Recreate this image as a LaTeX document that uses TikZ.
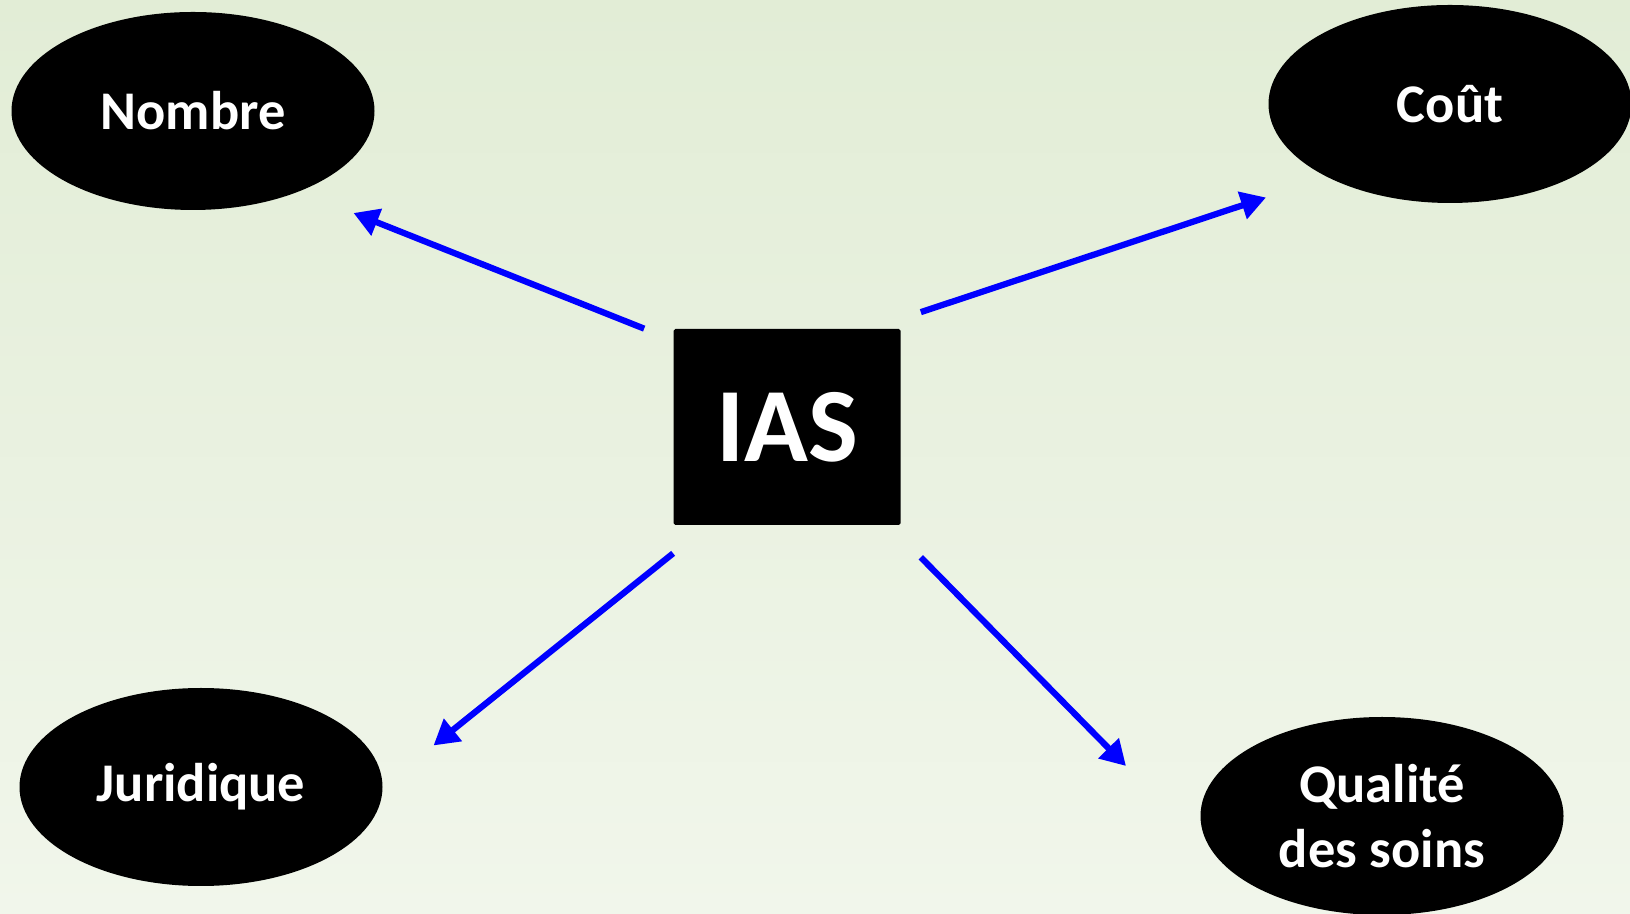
\documentclass[tikz,border=0pt]{standalone}
\usepackage{fontspec}
\setmainfont{Carlito}
\usetikzlibrary{shapes.geometric,arrows.meta}

\definecolor{bgtop}{RGB}{226,237,214}
\definecolor{bgbottom}{RGB}{241,246,235}

\tikzset{
  bubble/.style={ellipse,fill=black,text=white,minimum width=7.26cm,minimum height=3.96cm,
    inner sep=0pt,align=center,font=\fontsize{31}{37}\selectfont\bfseries},
  core/.style={rectangle,rounded corners=1pt,fill=black,text=white,minimum width=4.54cm,
    minimum height=3.92cm,font=\fontsize{60}{72}\selectfont\bfseries},
  arr/.style={->,blue,line width=0.125cm}
}

\begin{document}
\begin{tikzpicture}[>={Triangle[length=0.5cm,width=0.55cm]}]
\shade[top color=bgtop,bottom color=bgbottom] (0,0) rectangle (32.6,18.28);
\useasboundingbox (0,0) rectangle (32.6,18.28);
\node[core] (ias) at (15.74,9.74) {IAS};
\node[bubble] (nombre) at (3.86,16.06) {Nombre};
\node[bubble] (cout) at (29.0,16.2) {Coût};
\node[bubble] (juridique) at (4.02,2.54) {Juridique};
\node[bubble] (qualite) at (27.64,1.96) {Qualité\\des soins};
\draw[arr] ([xshift=-0.58cm]ias.north west) -- ([shift={(3.21,-2.04)}]nombre.center);
\draw[arr] ([shift={(0.4,0.33)}]ias.north east) -- ([shift={(-3.68,-1.87)}]cout.center);
\draw[arr] ([yshift=-0.56cm]ias.south west) -- ([shift={(4.65,0.83)}]juridique.center);
\draw[arr] ([shift={(0.4,-0.64)}]ias.south east) -- ([shift={(-5.12,1.0)}]qualite.center);
\end{tikzpicture}
\end{document}
